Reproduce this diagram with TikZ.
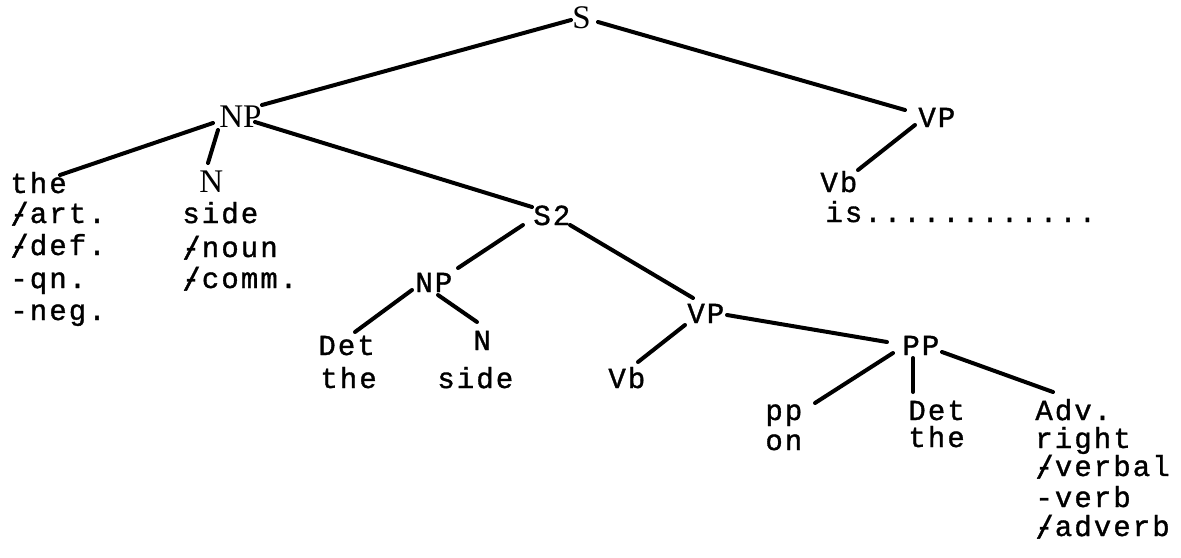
\documentclass[tikz,border=0pt]{standalone}
\usepackage{fontspec}
\newfontfamily\twfont[FakeBold=1.2,LetterSpace=7.2]{Liberation Mono}
\newfontfamily\srfont{Liberation Serif}
\newcommand\plm{\makebox[0pt][l]{\raisebox{-0.08em}{\scalebox{1.05}[1.12]{/}}}-}
\begin{document}
\begin{tikzpicture}[x=0.5pt,y=-0.5pt,
  tw/.style={font=\twfont\fontsize{14.5}{15}\selectfont, inner sep=0pt, anchor=base west},
  sr/.style={font=\srfont\fontsize{16.5}{16}\selectfont, inner sep=0pt, anchor=base west},
  br/.style={line width=2pt, line cap=round}]
\useasboundingbox (0,0) rectangle (1181,557);
\fill[white] (0,0) rectangle (1181,557);
% top level
\node[sr] (S) at (572,28) {S};
\node[sr] (NP) at (219,127) {NP};
\node[sr] (N) at (199,192) {N};
\node[tw] (VPt) at (918,127) {VP};
\node[tw] (Vbt) at (820,192) {Vb};
\node[tw] (is) at (825,222) {is............};
% left column
\node[tw] (the) at (10,193) {the};
\node[tw] (art) at (10,223) {\plm art.};
\node[tw] (def) at (10,255) {\plm def.};
\node[tw] (qn) at (10,288) {-qn.};
\node[tw] (neg) at (10,320) {-neg.};
% N column
\node[tw] (side) at (182,223) {side};
\node[tw] (noun) at (182,257) {\plm noun};
\node[tw] (comm) at (182,288) {\plm comm.};
% S2
\node[tw] (S2) at (533,225) {S2};
\node[tw] (NPb) at (415,292) {NP};
\node[tw] (Det) at (318,355) {Det};
\node[tw] (theb) at (320,388) {the};
\node[tw] (Nb) at (473,350) {N};
\node[tw] (sideb) at (437,388) {side};
\node[tw] (VPm) at (687,323) {VP};
\node[tw] (Vbm) at (608,388) {Vb};
\node[tw] (PP) at (902,355) {PP};
\node[tw] (pp) at (765,420) {pp};
\node[tw] (on) at (765,450) {on};
\node[tw] (Detc) at (908,420) {Det};
\node[tw] (thec) at (908,447) {the};
\node[tw] (Adv) at (1035,420) {Adv.};
\node[tw] (right) at (1035,448) {right};
\node[tw] (verbal) at (1035,476) {\plm verbal};
\node[tw] (verb) at (1035,507) {-verb};
\node[tw] (adverb) at (1035,536) {\plm adverb};
% connectors
\draw[br] ([shift={(-1,-8)}]S.base west) -- ([shift={(43,-22)}]NP.base west);
\draw[br] ([shift={(26,-6)}]S.base west) -- ([shift={(-13,-17)}]VPt.base west);
\draw[br] ([shift={(-6,-4)}]NP.base west) -- ([shift={(50,-18)}]the.base west);
\draw[br] ([shift={(-1,3)}]NP.base west) -- ([shift={(9,-29)}]N.base west);
\draw[br] ([shift={(36,-5)}]NP.base west) -- ([shift={(-1,-18)}]S2.base west);
\draw[br] ([shift={(-10,0)}]S2.base west) -- ([shift={(43,-24)}]NPb.base west);
\draw[br] ([shift={(37,0)}]S2.base west) -- ([shift={(6,-25)}]VPm.base west);
\draw[br] ([shift={(-3,-2)}]NPb.base west) -- ([shift={(37,-23)}]Det.base west);
\draw[br] ([shift={(23,3)}]NPb.base west) -- ([shift={(4,-28)}]Nb.base west);
\draw[br] ([shift={(-2,2)}]VPm.base west) -- ([shift={(30,-26)}]Vbm.base west);
\draw[br] ([shift={(40,-8)}]VPm.base west) -- ([shift={(-15,-13)}]PP.base west);
\draw[br] ([shift={(-9,-2)}]PP.base west) -- ([shift={(50,-17)}]pp.base west);
\draw[br] ([shift={(11,3)}]PP.base west) -- ([shift={(5,-28)}]Detc.base west);
\draw[br] ([shift={(40,-3)}]PP.base west) -- ([shift={(18,-28)}]Adv.base west);
\draw[br] ([shift={(-3,-2)}]VPt.base west) -- ([shift={(38,-22)}]Vbt.base west);
\end{tikzpicture}
\end{document}
